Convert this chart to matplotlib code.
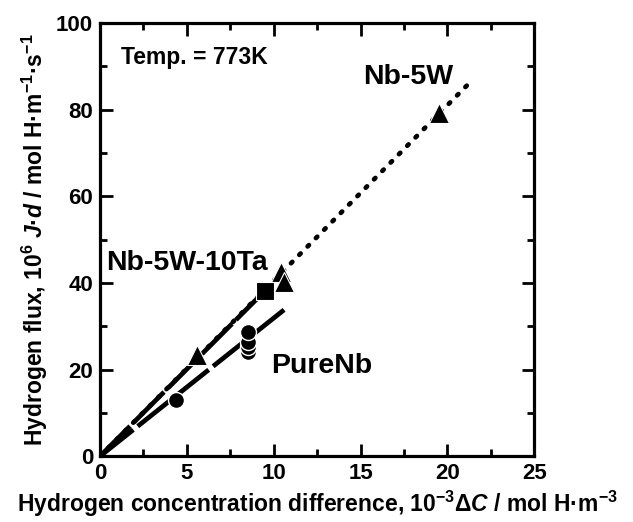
import matplotlib
matplotlib.use('Agg')
import matplotlib.pyplot as plt

plt.rcParams['font.family'] = ['Liberation Sans', 'DejaVu Sans']
plt.rcParams['font.weight'] = 'bold'
plt.rcParams['mathtext.fontset'] = 'custom'
plt.rcParams['mathtext.rm'] = 'Liberation Sans:bold'
plt.rcParams['mathtext.it'] = 'Liberation Sans:bold:italic'
plt.rcParams['mathtext.bf'] = 'Liberation Sans:bold'

# measured points
pure_x = [4.35, 8.5, 8.5, 8.5, 8.5]
pure_y = [12.9, 24.1, 25.2, 26.4, 28.7]
w_x = [5.6, 10.4, 10.6, 19.5]
w_y = [23.3, 42.6, 40.3, 79.2]
ta_x = [9.5]
ta_y = [38.2]

# fitted lines (start, end)
pure_fit_x = [0, 10.6]
pure_fit_y = [0, 33.8]
ta_fit_x = [0, 9.2]
ta_fit_y = [0, 37.0]
w_fit_x = [0, 21.5]
w_fit_y = [0, 87.1]

fig = plt.figure(figsize=(6.33, 5.22), dpi=100)
ax = fig.add_axes([0.158, 0.126, 0.686, 0.830])

ax.plot(w_fit_x, w_fit_y, color='black', lw=3.4, dashes=(0.4, 2.1),
        dash_capstyle='round')
ax.plot(ta_fit_x, ta_fit_y, color='black', lw=3.4, dashes=(9, 1.2))
ax.plot(pure_fit_x, pure_fit_y, color='black', lw=3.4, dashes=(9, 1.2))

ax.plot(pure_x, pure_y, 'o', color='black', ms=11.5, mec='white', mew=1.0,
        ls='none')
ax.plot(w_x, w_y, '^', color='black', ms=14, mec='white', mew=0.8, ls='none')
ax.plot(ta_x, ta_y, 's', color='black', ms=13, mec='white', mew=0.8, ls='none')

ax.text(1.2, 92.1, 'Temp. = 773K', fontsize=16.5, fontweight='bold',
        ha='left', va='center')
ax.text(17.75, 87.6, 'Nb-5W', fontsize=20.5, fontweight='bold',
        ha='center', va='center')
ax.text(0.35, 44.6, 'Nb-5W-10Ta', fontsize=20.5, fontweight='bold',
        ha='left', va='center')
ax.text(9.85, 20.8, 'PureNb', fontsize=20.5, fontweight='bold',
        ha='left', va='center')

ax.set_xlim(0, 25)
ax.set_ylim(0, 100)
ax.set_xticks([0, 5, 10, 15, 20, 25])
ax.set_yticks([0, 20, 40, 60, 80, 100])
ax.set_xticks([2.5, 7.5, 12.5, 17.5, 22.5], minor=True)
ax.set_yticks([10, 30, 50, 70, 90], minor=True)
ax.tick_params(which='both', direction='in', top=True, right=True,
               labelsize=16, width=2)
ax.tick_params(which='major', length=9, pad=5)
ax.tick_params(which='minor', length=5)
for lab in ax.get_xticklabels() + ax.get_yticklabels():
    lab.set_fontweight('bold')
for s in ax.spines.values():
    s.set_linewidth(2.3)

ax.set_xlabel('Hydrogen concentration difference, 10$^{-3}$Δ$\\it{C}$ / mol H·m$^{-3}$',
              fontsize=16.5, fontweight='bold', labelpad=3)
ax.set_ylabel('Hydrogen flux, 10$^{6}$ $\\it{J}$·$\\it{d}$ / mol H·m$^{-1}$·s$^{-1}$',
              fontsize=16.5, fontweight='bold', labelpad=4)

fig.savefig('out.png', dpi=100)
